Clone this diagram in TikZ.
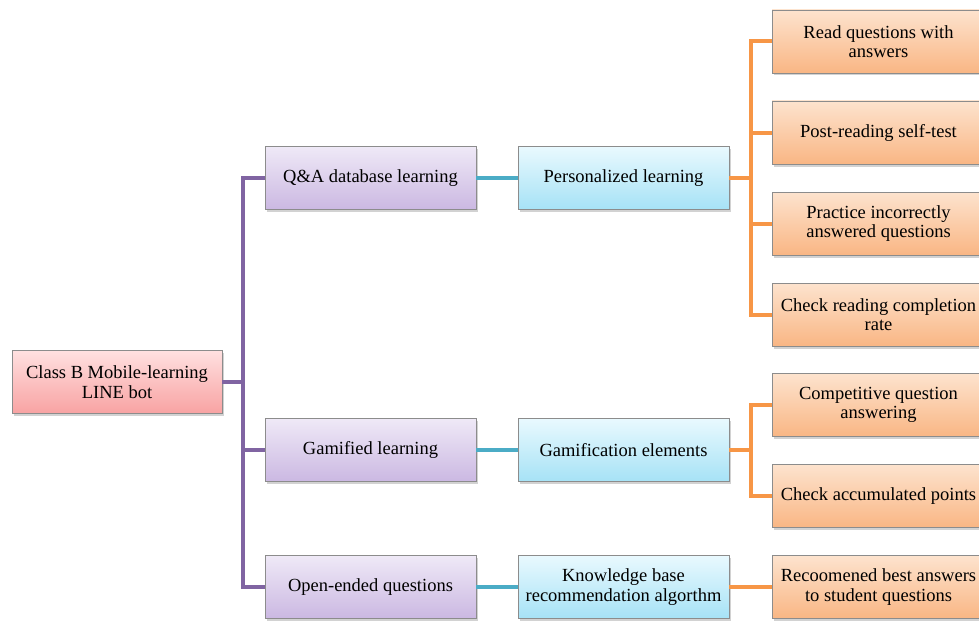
\documentclass[tikz,border=0pt]{standalone}
\usepackage{fontspec}
\setmainfont{Liberation Serif}
\usetikzlibrary{shadows}
\definecolor{plin}{HTML}{8064A2}
\definecolor{clin}{HTML}{4BACC6}
\definecolor{olin}{HTML}{F79646}
\definecolor{ptop}{HTML}{EFE9F7}
\definecolor{pbot}{HTML}{CBB8E2}
\definecolor{ctop}{HTML}{E9F9FE}
\definecolor{cbot}{HTML}{A6E2F6}
\definecolor{otop}{HTML}{FDE3CE}
\definecolor{obot}{HTML}{F9B684}
\definecolor{rtop}{HTML}{FFE1E1}
\definecolor{rbot}{HTML}{F8A2A2}
\tikzset{
  box/.style={draw=black!45, line width=0.7pt, minimum height=63pt, align=center,
    font=\fontsize{18.5}{19.5}\selectfont, inner sep=2pt,
    drop shadow={opacity=0.35, shadow xshift=2pt, shadow yshift=-2.5pt}},
  rootbox/.style={box, minimum width=210pt, top color=rtop, bottom color=rbot},
  pbox/.style={box, minimum width=211pt, top color=ptop, bottom color=pbot},
  cbox/.style={box, minimum width=211pt, top color=ctop, bottom color=cbot},
  obox/.style={box, minimum width=213pt, top color=otop, bottom color=obot},
  pline/.style={draw=plin, line width=4pt},
  cline/.style={draw=clin, line width=4pt},
  oline/.style={draw=olin, line width=4pt},
}
\begin{document}
\begin{tikzpicture}[x=1pt,y=-1pt]
\useasboundingbox (0,0) rectangle (979,623);
\clip (0,0) rectangle (979,623);
\fill[white] (0,0) rectangle (979,623);
% nodes
\node[rootbox] (root) at (117,382) {Class B Mobile-learning\\LINE bot};
\node[pbox] (qa) at (370.5,178) {Q\&A database learning};
\node[pbox] (gam) at (370.5,450) {Gamified learning};
\node[pbox] (open) at (370.5,587) {Open-ended questions};
\node[cbox] (pers) at (623.5,178) {Personalized learning};
\node[cbox] (gel) at (623.5,450) {Gamification elements};
\node[cbox] (kb) at (623.5,587) {Knowledge base\\recommendation algorthm};
\node[obox] (o1) at (878.5,41.5) {Read questions with\\answers};
\node[obox] (o2) at (878.5,132.5) {Post-reading self-test};
\node[obox] (o3) at (878.5,223.5) {Practice incorrectly\\answered questions};
\node[obox] (o4) at (878.5,314.5) {Check reading completion\\rate};
\node[obox] (o5) at (878.5,405) {Competitive question\\answering};
\node[obox] (o6) at (878.5,496) {Check accumulated points};
\node[obox] (o7) at (878.5,587) {Recoomened best answers\\to student questions};
% junctions
\coordinate (pj) at (243,382);
\coordinate (oj1) at (751,178);
\coordinate (oj2) at (751,450);
% purple connectors
\draw[pline] (root.east) -- (pj);
\draw[pline] (qa.west) -| (pj) |- (open.west);
\draw[pline] (pj) |- (gam.west);
% cyan connectors
\draw[cline] (qa.east) -- (pers.west);
\draw[cline] (gam.east) -- (gel.west);
\draw[cline] (open.east) -- (kb.west);
% orange connectors
\draw[oline] (pers.east) -- (oj1);
\draw[oline] (o1.west) -| (oj1) |- (o4.west);
\draw[oline] (oj1) |- (o2.west);
\draw[oline] (oj1) |- (o3.west);
\draw[oline] (gel.east) -- (oj2);
\draw[oline] (o5.west) -| (oj2) |- (o6.west);
\draw[oline] (kb.east) -- (o7.west);
\end{tikzpicture}
\end{document}
